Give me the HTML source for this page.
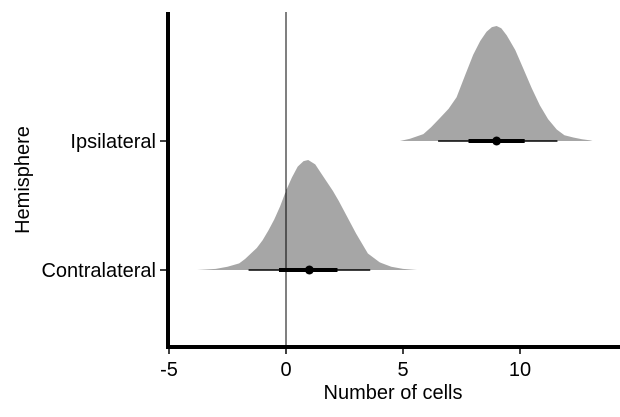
<!DOCTYPE html>
<html><head><meta charset="utf-8"><style>
body{margin:0;background:#fff}
svg text{font-family:"Liberation Sans",Arial,sans-serif;font-size:20px;fill:#000}
</style></head><body>
<div style="position:relative;width:620px;height:417px">
<svg id="c" width="620" height="417" style="position:absolute;left:0;top:0"></svg>
</div>
<script>
const categories=["Contralateral","Ipsilateral"];
const pointEstimates=[1.0,9.0];
const inner66Low=[-0.3,7.8], inner66High=[2.2,10.2];
const outer95Low=[-1.6,6.5], outer95High=[3.6,11.6];
const densityX0=[-3.8,-3,-2.5,-2,-1.75,-1.5,-1.25,-1,-0.75,-0.5,-0.25,0,0.25,0.5,0.75,0.95,1.25,1.5,1.75,2,2.25,2.5,2.75,3,3.25,3.5,4,4.5,5,5.6];
const densityY0=[0,0.01,0.03,0.06,0.1,0.15,0.2,0.27,0.36,0.46,0.58,0.72,0.84,0.94,0.99,1.0,0.96,0.88,0.8,0.72,0.63,0.53,0.43,0.33,0.24,0.15,0.07,0.03,0.01,0];
const densityX1=[4.87,5.3,5.87,6.2,6.58,6.95,7.29,7.65,8.0,8.3,8.57,8.8,9.0,9.2,9.43,9.8,10.14,10.5,10.85,11.2,11.57,11.9,12.28,12.65,13.0,13.1];
const densityY1=[0,0.02,0.06,0.12,0.2,0.28,0.38,0.57,0.75,0.87,0.95,0.99,1.0,0.98,0.92,0.79,0.63,0.46,0.31,0.19,0.10,0.05,0.03,0.015,0.005,0];
const peakHeights=[110,115];
const xTicks=[-5,0,5,10];
const NS="http://www.w3.org/2000/svg";
const svg=document.getElementById('c');
const xs=v=>286+v*23.4;
const ys=i=>[270,141][i];
function mk(t,a,p){const e=document.createElementNS(NS,t);for(const k in a)e.setAttribute(k,a[k]);(p||svg).appendChild(e);return e;}
const dx=[densityX0,densityX1], dy=[densityY0,densityY1];
categories.forEach((c,i)=>{
  let d="M"+xs(dx[i][0])+","+ys(i);
  dx[i].forEach((x,j)=>{d+=" L"+xs(x)+","+(ys(i)-dy[i][j]*peakHeights[i]);});
  d+=" L"+xs(dx[i][dx[i].length-1])+","+ys(i)+"Z";
  const p=mk('path',{d:d,fill:'#a6a6a6'});
  
  
});
mk('line',{x1:xs(0),x2:xs(0),y1:12,y2:347,stroke:'#000','stroke-width':1,});
categories.forEach((c,i)=>{
  const g=mk('g',{});
  
  
  mk('line',{x1:xs(outer95Low[i]),x2:xs(outer95High[i]),y1:ys(i),y2:ys(i),stroke:'#000','stroke-width':1.5},g);
  mk('line',{x1:xs(inner66Low[i]),x2:xs(inner66High[i]),y1:ys(i),y2:ys(i),stroke:'#000','stroke-width':4},g);
  mk('circle',{cx:xs(pointEstimates[i]),cy:ys(i),r:4.5,fill:'#000'},g);
  mk('line',{x1:160,x2:168,y1:ys(i),y2:ys(i),stroke:'#000','stroke-width':1.5,});
  const t=mk('text',{x:156,y:ys(i)+7,'text-anchor':'end'});t.textContent=c;
  
  
});
mk('line',{x1:168,x2:168,y1:12,y2:349,stroke:'#000','stroke-width':4,});
mk('line',{x1:166,x2:620,y1:347,y2:347,stroke:'#000','stroke-width':4,});
xTicks.forEach(v=>{
  mk('line',{x1:xs(v),x2:xs(v),y1:347,y2:354,stroke:'#000','stroke-width':1.5,});
  const t=mk('text',{x:xs(v),y:376,'text-anchor':'middle'});t.textContent=v;
  
  
});
const tt=mk('text',{x:393,y:399,'text-anchor':'middle'});tt.textContent='Number of cells';


const yt=mk('text',{transform:'translate(29,180) rotate(-90)','text-anchor':'middle'});yt.textContent='Hemisphere';


</script>
</body></html>
